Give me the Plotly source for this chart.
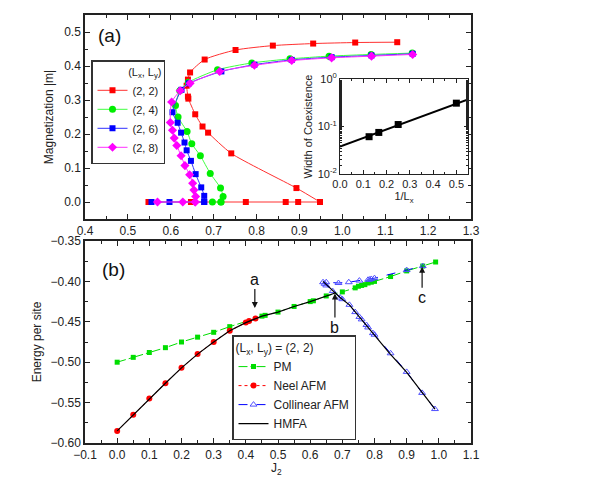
import plotly.graph_objects as go

# ---- panel (a): magnetization vs J2, flat (m=0) part and curved part ----
red_flat_x = [0.548, 0.647, 0.775, 0.868, 0.897, 0.948]
red_flat_y = [0, 0, 0, 0, 0, 0]
red_curve_x = [0.948, 0.893, 0.741, 0.687, 0.674, 0.657, 0.641, 0.640, 0.637, 0.640, 0.645, 0.679, 0.751, 0.838, 0.932, 1.030, 1.128]
red_curve_y = [0.0, 0.041, 0.143, 0.204, 0.222, 0.258, 0.304, 0.310, 0.342, 0.360, 0.381, 0.419, 0.447, 0.460, 0.466, 0.469, 0.470]

green_flat_x = [0.697, 0.717]
green_flat_y = [0, 0]
green_curve_x = [0.717, 0.722, 0.716, 0.692, 0.669, 0.649, 0.638, 0.617, 0.611, 0.621, 0.641, 0.709, 0.789, 0.878, 0.969, 1.067, 1.163]
green_curve_y = [0.0, 0.016, 0.041, 0.084, 0.136, 0.171, 0.207, 0.250, 0.284, 0.327, 0.352, 0.389, 0.409, 0.421, 0.429, 0.434, 0.438]

blue_flat_x = [0.555, 0.597, 0.678]
blue_flat_y = [0, 0, 0]
blue_curve_x = [0.678, 0.678, 0.671, 0.658, 0.647, 0.637, 0.632, 0.624, 0.616, 0.604, 0.625, 0.642, 0.718, 0.795, 0.882, 0.975, 1.068, 1.164]
blue_curve_y = [0.0, 0.018, 0.043, 0.082, 0.121, 0.152, 0.175, 0.204, 0.233, 0.264, 0.330, 0.349, 0.384, 0.404, 0.418, 0.426, 0.431, 0.436]

mag_flat_x = [0.569, 0.628, 0.657]
mag_flat_y = [0, 0, 0]
mag_curve_x = [0.657, 0.658, 0.654, 0.651, 0.644, 0.633, 0.624, 0.614, 0.608, 0.604, 0.599, 0.602, 0.622, 0.645, 0.714, 0.795, 0.882, 0.975, 1.068, 1.164]
mag_curve_y = [0.0, 0.016, 0.035, 0.055, 0.080, 0.107, 0.136, 0.166, 0.188, 0.211, 0.234, 0.294, 0.327, 0.349, 0.384, 0.402, 0.416, 0.424, 0.429, 0.434]

# ---- inset: width of coexistence vs 1/Lx ----
inv_lx = [0.125, 0.1667, 0.25, 0.5]
width = [0.061, 0.075, 0.11, 0.31]
fit_x = [0.0, 0.55]
fit_y = [0.038, 0.37]

# ---- panel (b): energy per site vs J2 ----
pm_x = [0, 0.05, 0.1, 0.15, 0.2, 0.25, 0.3, 0.35, 0.45, 0.46, 0.5, 0.55, 0.6, 0.61, 0.65, 0.7,
        0.74, 0.75, 0.76, 0.77, 0.78, 0.79, 0.8, 0.85, 0.9, 0.95, 0.99]
pm_y = [-0.500, -0.494, -0.488, -0.482, -0.475, -0.469, -0.463, -0.456, -0.443, -0.442, -0.438, -0.431,
        -0.425, -0.424, -0.418, -0.413, -0.408, -0.406, -0.405, -0.404, -0.402, -0.401, -0.400, -0.394,
        -0.387, -0.381, -0.376]

neel_x = [0, 0.05, 0.1, 0.15, 0.2, 0.25, 0.3, 0.35, 0.4, 0.41, 0.43]
neel_y = [-0.585, -0.565, -0.545, -0.526, -0.507, -0.490, -0.475, -0.461, -0.451, -0.449, -0.446]

col_x = [0.988, 0.948, 0.9, 0.85, 0.8, 0.795, 0.78, 0.775, 0.76, 0.753, 0.74, 0.722, 0.7, 0.693, 0.67, 0.65, 0.645, 0.64,
         0.65, 0.688, 0.72, 0.753, 0.78, 0.785, 0.79, 0.8, 0.9, 0.95]
col_y = [-0.558, -0.538, -0.512, -0.489, -0.466, -0.464, -0.457, -0.454, -0.447, -0.444, -0.438, -0.429, -0.422, -0.420,
         -0.412, -0.405, -0.403, -0.401, -0.401, -0.402, -0.401, -0.399, -0.398, -0.3977, -0.397, -0.396, -0.386, -0.381]

hmfa_x = [0, 0.05, 0.1, 0.15, 0.2, 0.25, 0.3, 0.35, 0.4, 0.45, 0.5, 0.55, 0.6, 0.65, 0.68, None,
          0.64, 0.693, 0.722, 0.753, 0.795, 0.847, 0.899, 0.948, 0.988]
hmfa_y = [-0.585, -0.565, -0.545, -0.526, -0.507, -0.490, -0.475, -0.461, -0.451, -0.443, -0.438, -0.431,
          -0.425, -0.418, -0.414, None,
          -0.400, -0.420, -0.429, -0.444, -0.464, -0.489, -0.512, -0.538, -0.558]

FONT = "Liberation Sans, Arial, sans-serif"
W, H = 613, 479
OFF = 8  # page body margin

fig = go.Figure()

series_a = [
    ("(2, 2)", red_flat_x, red_flat_y, red_curve_x, red_curve_y, "#ff0000", "#ff3030", "square", 6),
    ("(2, 4)", green_flat_x, green_flat_y, green_curve_x, green_curve_y, "#00ee00", "#40ff40", "circle", 7),
    ("(2, 6)", blue_flat_x, blue_flat_y, blue_curve_x, blue_curve_y, "#0000ff", "#3030ff", "square", 6),
    ("(2, 8)", mag_flat_x, mag_flat_y, mag_curve_x, mag_curve_y, "#ff00ff", "#ff30ff", "diamond", 7),
]
for name, fx, fy, cx, cy, mc, lc, sym, ms in series_a:
    fig.add_trace(go.Scatter(x=fx, y=fy, mode="lines+markers", name=name, legendgroup=name,
                             line=dict(color=lc, width=1), marker=dict(color=mc, symbol=sym, size=ms),
                             xaxis="x", yaxis="y", legend="legend"))
    fig.add_trace(go.Scatter(x=cx, y=cy, mode="lines+markers", name=name, legendgroup=name, showlegend=False,
                             line=dict(color=lc, width=1, shape="spline", smoothing=0.6),
                             marker=dict(color=mc, symbol=sym, size=ms),
                             xaxis="x", yaxis="y", legend="legend"))

# inset
fig.add_trace(go.Scatter(x=fit_x, y=fit_y, mode="lines", line=dict(color="black", width=2),
                         showlegend=False, xaxis="x3", yaxis="y3"))
fig.add_trace(go.Scatter(x=inv_lx, y=width, mode="markers", marker=dict(color="black", symbol="square", size=7),
                         showlegend=False, xaxis="x3", yaxis="y3"))

# panel (b)
fig.add_trace(go.Scatter(x=pm_x, y=pm_y, mode="lines+markers", name="PM",
                         line=dict(color="#00dd00", width=1, dash="dashdot"),
                         marker=dict(color="#00dd00", symbol="square", size=5),
                         xaxis="x2", yaxis="y2", legend="legend2"))
fig.add_trace(go.Scatter(x=neel_x, y=neel_y, mode="lines+markers", name="Neel AFM",
                         line=dict(color="#ff0000", width=1, dash="dot"),
                         marker=dict(color="#ff0000", symbol="circle", size=6),
                         xaxis="x2", yaxis="y2", legend="legend2"))
fig.add_trace(go.Scatter(x=col_x, y=col_y, mode="lines+markers", name="Collinear AFM",
                         line=dict(color="#0000ff", width=1, dash="dash"),
                         marker=dict(color="#5050ff", symbol="triangle-up-open", size=6, line=dict(width=1)),
                         xaxis="x2", yaxis="y2", legend="legend2"))
fig.add_trace(go.Scatter(x=hmfa_x, y=hmfa_y, mode="lines", name="HMFA",
                         line=dict(color="black", width=1.2),
                         xaxis="x2", yaxis="y2", legend="legend2"))

axis_common = dict(showline=True, linecolor="#222", linewidth=1.5, mirror="ticks", ticks="inside",
                   ticklen=5, tickcolor="#222", showgrid=False, zeroline=False, automargin=False,
                   tickfont=dict(family=FONT, size=12, color="#222"))


def dom(px0, px1):
    return [(px0 - OFF) / W, (px1 - OFF) / W]


def vdom(py_top, py_bot):
    return [1 - (py_bot - OFF) / H, 1 - (py_top - OFF) / H]


def px(v):
    return (v - OFF) / W


def py(v):
    return 1 - (v - OFF) / H


fig.update_layout(
    width=W, height=H,
    margin=dict(l=0, r=0, t=0, b=0),
    paper_bgcolor="white", plot_bgcolor="white",
    font=dict(family=FONT, size=12, color="#222"),
    xaxis=dict(axis_common, domain=dom(85, 471), range=[0.4, 1.3], dtick=0.1, tickformat=".1f",
               minor=dict(ticks="inside", ticklen=3, dtick=0.05, tickcolor="#222"), anchor="y"),
    yaxis=dict(axis_common, domain=vdom(15, 219), range=[-0.05, 0.55], dtick=0.1, tickformat=".1f",
               minor=dict(ticks="inside", ticklen=3, dtick=0.05, tickcolor="#222"), anchor="x",
               title=dict(text="Magnetization |m|", font=dict(size=12), standoff=8)),
    xaxis2=dict(axis_common, domain=dom(85, 471), range=[-0.1, 1.1], dtick=0.1, tickformat=".1f",
                minor=dict(ticks="inside", ticklen=3, dtick=0.05, tickcolor="#222"), anchor="y2"),
    yaxis2=dict(axis_common, domain=vdom(241, 443), range=[-0.60, -0.35], dtick=0.05, tickformat=".2f",
                minor=dict(ticks="inside", ticklen=3, dtick=0.025, tickcolor="#222"), anchor="x2",
                title=dict(text="Energy per site", font=dict(size=12), standoff=6)),
    xaxis3=dict(axis_common, domain=dom(340, 468), range=[0.0, 0.55], dtick=0.1, tickformat=".1f",
                ticklen=4, minor=dict(ticks="inside", ticklen=2, dtick=0.05, tickcolor="#222"), anchor="y3",
                linewidth=1, tickfont=dict(family=FONT, size=11, color="#222"),
                title=dict(text="1/L<sub>x</sub>", font=dict(size=11), standoff=2)),
    yaxis3=dict(axis_common, domain=vdom(79, 174), type="log", range=[-2, 0], anchor="x3",
                tickvals=[0.01, 0.1, 1], ticktext=["10<sup>-2</sup>", "10<sup>-1</sup>", "10<sup>0</sup>"],
                ticklen=4, linewidth=1, minor=dict(ticks="inside", ticklen=2, tickcolor="#222"),
                tickfont=dict(family=FONT, size=11, color="#222"),
                title=dict(text="Width of Coexistence", font=dict(size=11), standoff=2)),
    legend=dict(x=px(91), y=py(60), xanchor="left", yanchor="top",
                bordercolor="#333", borderwidth=1.5, bgcolor="white",
                font=dict(family=FONT, size=11), tracegroupgap=0, itemwidth=30,
                title=dict(text="(L<sub>x</sub>, L<sub>y</sub>)", side="top right", font=dict(size=11))),
    legend2=dict(x=px(232), y=py(335), xanchor="left", yanchor="top",
                 bordercolor="#333", borderwidth=1.5, bgcolor="white",
                 font=dict(family=FONT, size=12), itemwidth=30,
                 title=dict(text="(L<sub>x</sub>, L<sub>y</sub>) = (2, 2)", font=dict(size=12))),
    showlegend=True,
)

fig.add_annotation(text="(a)", xref="paper", yref="paper", x=px(96), y=py(36), xanchor="left",
                   yanchor="middle", showarrow=False, font=dict(size=19, family=FONT, color="#111"))
fig.add_annotation(text="(b)", xref="paper", yref="paper", x=px(100), y=py(269), xanchor="left",
                   yanchor="middle", showarrow=False, font=dict(size=19, family=FONT, color="#111"))
fig.add_annotation(text="J<sub>2</sub>", xref="paper", yref="paper", x=px(276), y=py(469), xanchor="center",
                   yanchor="middle", showarrow=False, font=dict(size=12, family=FONT, color="#222"))

for label, ax_x, ax_y, off in [("a", 0.428, -0.433, -29), ("b", 0.677, -0.415, 34), ("c", 0.948, -0.382, 31)]:
    fig.add_annotation(text=label, x=ax_x, y=ax_y, xref="x2", yref="y2", ax=0, ay=off,
                       showarrow=True, arrowhead=2, arrowsize=1, arrowwidth=1.2, arrowcolor="#111",
                       font=dict(size=16, family=FONT, color="#111"))

fig.write_html("out.html")
